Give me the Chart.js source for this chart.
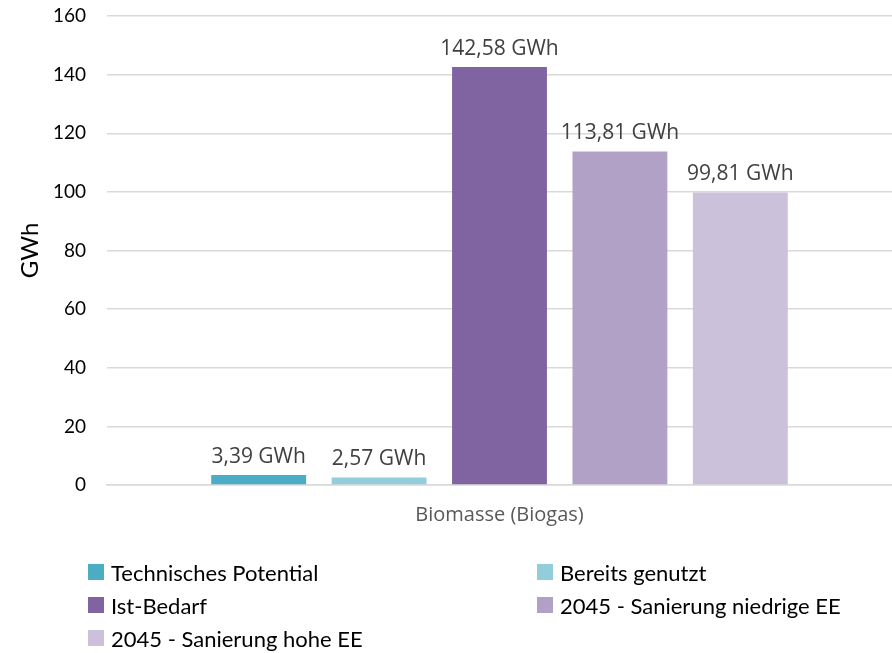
<!DOCTYPE html>
<html>
<head>
<meta charset="utf-8">
<script src="https://cdn.jsdelivr.net/npm/chart.js@4.4.1/dist/chart.umd.min.js"></script>
<style>
    html, body { margin: 0; padding: 0; background: #fff; }
    #wrap { position: relative; width: 892px; height: 653px; }
    #legend {
        position: absolute; left: 88px; top: 560px; width: 800px;
        display: grid; grid-template-columns: 449px 1fr; row-gap: 9px;
        font-family: Lato, "Liberation Sans", sans-serif; font-size: 22px; color: #000;
    }
    .item { display: flex; align-items: center; height: 24px; white-space: nowrap; }
    .box { width: 16px; height: 16px; margin-right: 7px; flex: none; }
</style>
</head>
<body>
<div id="wrap">
    <canvas id="chart" width="892" height="653"></canvas>
    <div id="legend"></div>
</div>
<script>
// Data
const categories = ["Biomasse (Biogas)"];
const seriesNames = [
    "Technisches Potential",
    "Bereits genutzt",
    "Ist-Bedarf",
    "2045 - Sanierung niedrige EE",
    "2045 - Sanierung hohe EE"
];
const seriesValues = [3.39, 2.57, 142.58, 113.81, 99.81];
const seriesColors = ["#4BACC6", "#92CDDC", "#8064A2", "#B2A1C7", "#CCC1DA"];
const yTicks = [0, 20, 40, 60, 80, 100, 120, 140, 160];

const fmtDe = v => v.toFixed(2).replace(".", ",") + " GWh";

// simple value labels above each bar
const valueLabels = {
    id: "valueLabels",
    afterDatasetsDraw(chart) {
        const ctx = chart.ctx;
        ctx.save();
        ctx.font = "21px 'Open Sans', sans-serif";
        ctx.fillStyle = "#404040";
        ctx.textAlign = "center";
        ctx.textBaseline = "bottom";
        chart.data.datasets.forEach((ds, i) => {
            chart.getDatasetMeta(i).data.forEach((bar, j) => {
                ctx.fillText(fmtDe(ds.data[j]), bar.x, bar.y - 8);
            });
        });
        ctx.restore();
    }
};

const chart = new Chart(document.getElementById("chart"), {
    type: "bar",
    data: {
        labels: categories,
        datasets: seriesNames.map((name, i) => ({
            label: name,
            data: [seriesValues[i]],
            backgroundColor: seriesColors[i],
            barPercentage: 0.788,
            categoryPercentage: 0.767,
        }))
    },
    options: {
        responsive: false,
        animation: false,
        layout: { padding: { top: 16, right: 0, bottom: 108, left: 0 } },
        plugins: {
            legend: { display: false },
            tooltip: { enabled: false }
        },
        scales: {
            x: {
                grid: { display: false, drawTicks: false },
                border: { color: "#D9D9D9", width: 1.5 },
                ticks: { color: "#595959", padding: 18, font: { family: "Open Sans", size: 20 } },
                afterFit: s => { s.height = 60; }
            },
            y: {
                min: 0, max: 160,
                afterBuildTicks: s => { s.ticks = yTicks.map(v => ({ value: v })); },
                grid: { color: "#D9D9D9", lineWidth: 1.5, drawTicks: false },
                border: { display: false },
                ticks: { color: "#000", padding: 21, font: { family: "Lato", size: 19 } },
                title: {
                    display: true, text: "GWh", color: "#000",
                    font: { family: "Lato", size: 24 },
                    padding: { top: 16, bottom: 0 }
                },
                afterFit: s => { s.width = 107; s.paddingTop = 0; s.paddingBottom = 0; }
            }
        }
    },
    plugins: [valueLabels]
});

// legend in two columns, built from the datasets
document.getElementById("legend").innerHTML = chart.data.datasets.map(ds => `
    <div class="item"><span class="box" style="background:${ds.backgroundColor}"></span>${ds.label}</div>
`).join("");
</script>
</body>
</html>
